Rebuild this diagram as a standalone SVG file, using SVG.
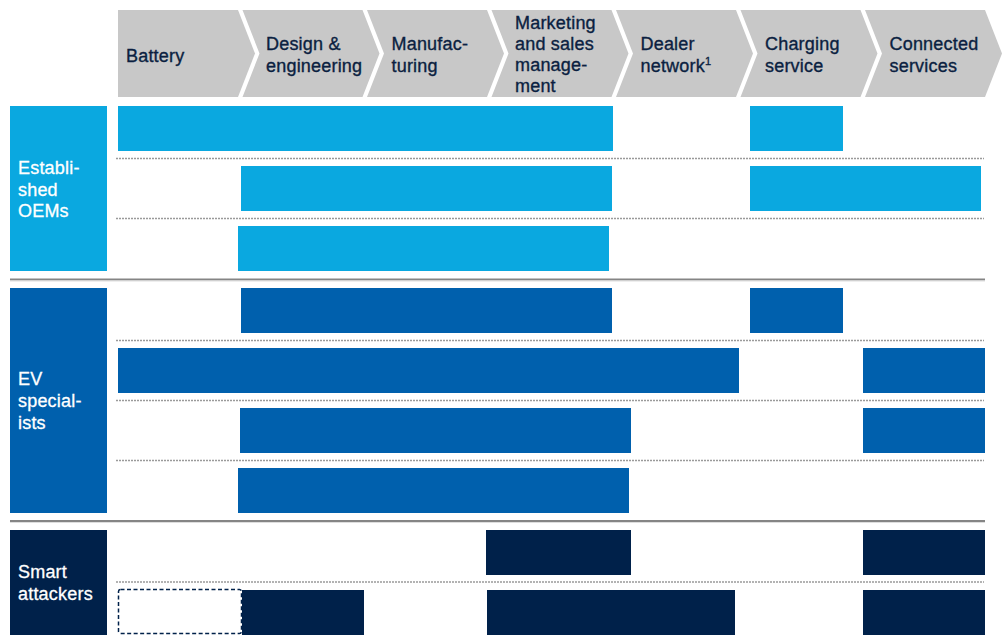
<svg xmlns="http://www.w3.org/2000/svg" width="1002" height="635" viewBox="0 0 1002 635">
<style>
.chev{fill:#c8c8c8}
.ht{font-family:"Liberation Sans",Arial,sans-serif;font-size:18px;letter-spacing:0.2px;fill:#0b1f41;stroke:#0b1f41;stroke-width:0.35px}
.lt{font-family:"Liberation Sans",Arial,sans-serif;font-size:18px;letter-spacing:0.2px;fill:#ffffff;stroke:#ffffff;stroke-width:0.3px}
.oem{fill:#0aa8e0}
.ev{fill:#0060ad}
.sa{fill:#00214a}
.dot{stroke:#9a9a9a;stroke-width:1.4;stroke-dasharray:2 1;fill:none}
.sep{stroke:#858585;stroke-width:2;fill:none}
.sep2{stroke:#dedede;stroke-width:1;fill:none}
.dash{fill:#ffffff;stroke:#00214a;stroke-width:1.5;stroke-dasharray:4 2.5}
</style>
<rect width="1002" height="635" fill="#ffffff"/>

<g id="header">
  <g id="h-battery">
    <path class="chev" d="M118,10 H238 L255,53.5 L238,97 H118 Z"/>
    <text class="ht" x="126" y="61.5">Battery</text>
  </g>
  <g id="h-design">
    <path class="chev" d="M242.5,10 H362.5 L379.5,53.5 L362.5,97 H242.5 L259.5,53.5 Z"/>
    <text class="ht" x="266" y="50">Design &amp;</text>
    <text class="ht" x="266" y="71.5">engineering</text>
  </g>
  <g id="h-manufacturing">
    <path class="chev" d="M367,10 H487 L504,53.5 L487,97 H367 L384,53.5 Z"/>
    <text class="ht" x="391.5" y="50">Manufac-</text>
    <text class="ht" x="391.5" y="71.5">turing</text>
  </g>
  <g id="h-marketing">
    <path class="chev" d="M491.5,10 H611.5 L628.5,53.5 L611.5,97 H491.5 L508.5,53.5 Z"/>
    <text class="ht" x="515" y="28.5">Marketing</text>
    <text class="ht" x="515" y="49.8">and sales</text>
    <text class="ht" x="515" y="71.1">manage-</text>
    <text class="ht" x="515" y="92.4">ment</text>
  </g>
  <g id="h-dealer">
    <path class="chev" d="M616,10 H736 L753,53.5 L736,97 H616 L633,53.5 Z"/>
    <text class="ht" x="640.5" y="50">Dealer</text>
    <text class="ht" x="640.5" y="71.5">network<tspan font-size="11" dy="-7">1</tspan></text>
  </g>
  <g id="h-charging">
    <path class="chev" d="M740.5,10 H860.5 L877.5,53.5 L860.5,97 H740.5 L757.5,53.5 Z"/>
    <text class="ht" x="765" y="50">Charging</text>
    <text class="ht" x="765" y="71.5">service</text>
  </g>
  <g id="h-connected">
    <path class="chev" d="M865,10 H985 L1002,53.5 L985,97 H865 L882,53.5 Z"/>
    <text class="ht" x="889.5" y="50">Connected</text>
    <text class="ht" x="889.5" y="71.5">services</text>
  </g>
</g>

<g id="grid-lines">
  <line class="dot" x1="116" y1="158.5" x2="984" y2="158.5"/>
  <line class="dot" x1="116" y1="218.5" x2="984" y2="218.5"/>
  <line class="sep" x1="10" y1="279.5" x2="985" y2="279.5"/>
  <line class="sep2" x1="10" y1="281" x2="985" y2="281"/>
  <line class="dot" x1="116" y1="340.5" x2="984" y2="340.5"/>
  <line class="dot" x1="116" y1="400.5" x2="984" y2="400.5"/>
  <line class="dot" x1="116" y1="460.5" x2="984" y2="460.5"/>
  <line class="sep" x1="10" y1="521" x2="985" y2="521"/>
  <line class="sep2" x1="10" y1="522.5" x2="985" y2="522.5"/>
  <line class="dot" x1="116" y1="582" x2="984" y2="582"/>
</g>

<g id="established-oems">
  <rect class="oem" x="10" y="106" width="97" height="165"/>
  <text class="lt" x="18" y="174">Establi-</text>
  <text class="lt" x="18" y="195.7">shed</text>
  <text class="lt" x="18" y="217.4">OEMs</text>
</g>
<g id="oem-bars">
  <rect class="oem" x="118" y="106" width="495" height="45"/>
  <rect class="oem" x="750" y="106" width="93" height="45"/>
  <rect class="oem" x="241" y="166" width="371" height="45"/>
  <rect class="oem" x="750" y="166" width="231" height="45"/>
  <rect class="oem" x="238" y="226" width="371" height="45"/>
</g>

<g id="ev-specialists">
  <rect class="ev" x="10" y="288" width="97" height="225"/>
  <text class="lt" x="18" y="385">EV</text>
  <text class="lt" x="18" y="407">special-</text>
  <text class="lt" x="18" y="429">ists</text>
</g>
<g id="ev-bars">
  <rect class="ev" x="241" y="288" width="371" height="45"/>
  <rect class="ev" x="750" y="288" width="93" height="45"/>
  <rect class="ev" x="118" y="348" width="621" height="45"/>
  <rect class="ev" x="863" y="348" width="122" height="45"/>
  <rect class="ev" x="240" y="408" width="391" height="45"/>
  <rect class="ev" x="863" y="408" width="122" height="45"/>
  <rect class="ev" x="238" y="468" width="391" height="45"/>
</g>

<g id="smart-attackers">
  <rect class="sa" x="10" y="530" width="97" height="105"/>
  <text class="lt" x="18" y="578">Smart</text>
  <text class="lt" x="18" y="599.5">attackers</text>
</g>
<g id="sa-bars">
  <rect class="sa" x="486" y="530" width="145" height="45"/>
  <rect class="sa" x="863" y="530" width="122" height="45"/>
  <rect class="dash" x="118.5" y="589.5" width="123" height="44" rx="2"/>
  <rect class="sa" x="242" y="590" width="122" height="45"/>
  <rect class="sa" x="487" y="590" width="248" height="45"/>
  <rect class="sa" x="863" y="590" width="122" height="45"/>
</g>
</svg>
